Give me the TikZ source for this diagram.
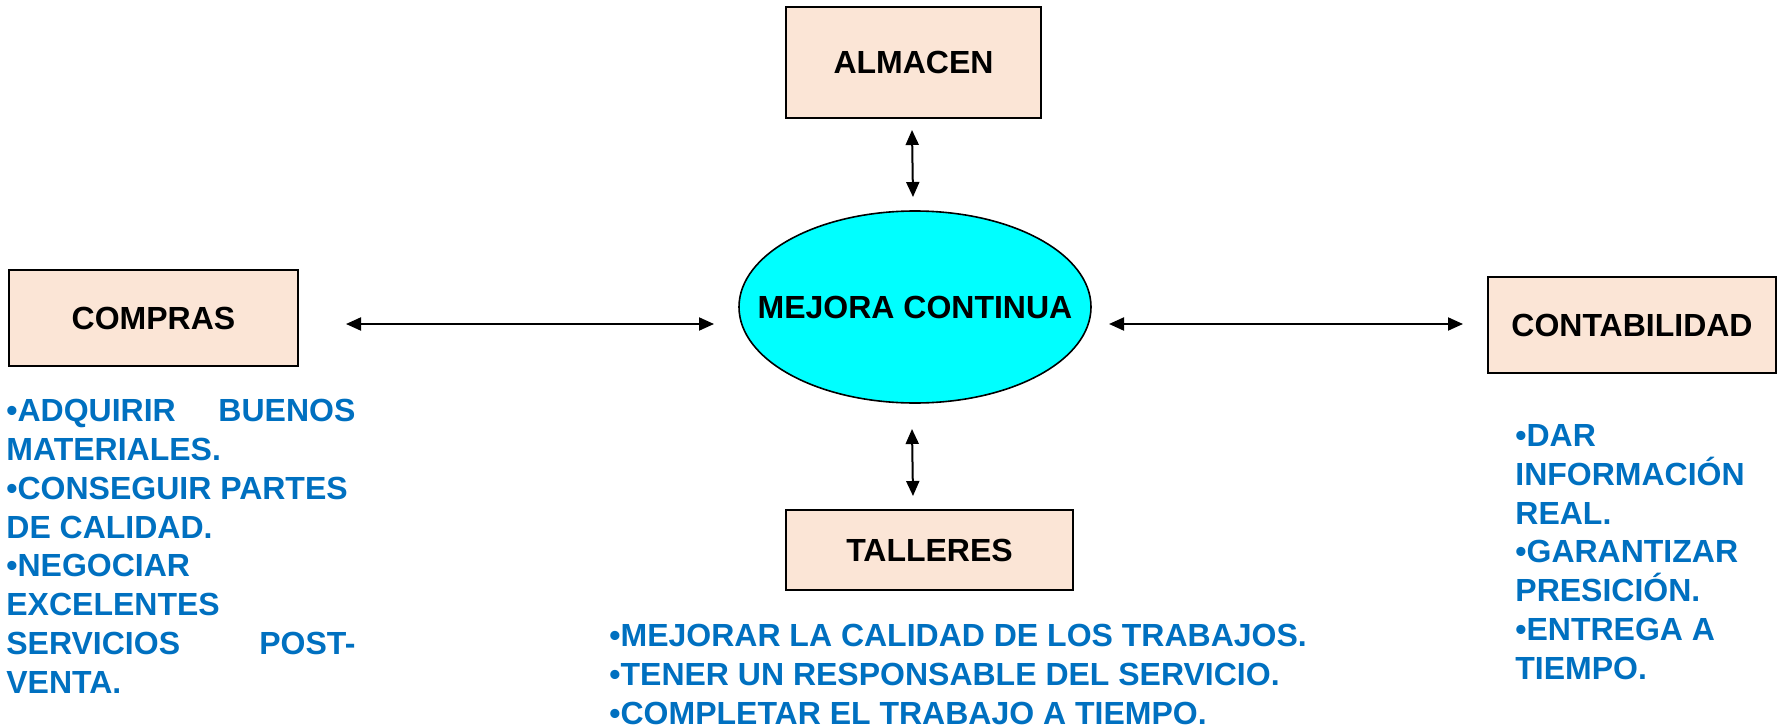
\documentclass[tikz,border=0pt]{standalone}
\usepackage{fontspec}
\setmainfont{Liberation Sans}
\usetikzlibrary{arrows.meta,shapes.geometric}
\definecolor{boxfill}{RGB}{251,229,214}
\definecolor{listblue}{RGB}{0,112,192}
\definecolor{ellfill}{RGB}{0,255,255}
\begin{document}
\begin{tikzpicture}[x=0.5pt,y=-0.5pt,
  unitbox/.style={draw=black,line width=1.2pt,fill=boxfill,rectangle,inner sep=0pt,
    font=\fontsize{16}{18}\selectfont\bfseries},
  listtext/.style={text=listblue,font=\fontsize{16}{19.4}\selectfont\bfseries,
    inner sep=0pt,anchor=north west,align=left},
  link/.style={line width=1pt,{Triangle[length=7.5pt,width=6.5pt]}-{Triangle[length=7.5pt,width=6.5pt]}}]
\useasboundingbox (0,0) rectangle (1778,728);

\node[unitbox,minimum width=127.5pt,minimum height=55.5pt] (almacen) at (913.5,62.5) {ALMACEN};
\node[unitbox,minimum width=144.5pt,minimum height=48pt] (compras) at (153.5,318) {COMPRAS};
\node[unitbox,minimum width=144pt,minimum height=48pt] (contab) at (1632,325) {CONTABILIDAD};
\node[unitbox,minimum width=143.5pt,minimum height=40pt] (talleres) at (929.5,550) {TALLERES};
\node[ellipse,draw=black,line width=0.8pt,fill=ellfill,minimum width=176pt,minimum height=96pt,
  inner sep=0pt,font=\fontsize{16}{18}\selectfont\bfseries] (mejora) at (915,307) {\makebox[0pt]{MEJORA CONTINUA}};

\coordinate (l1) at (346,324);
\coordinate (l2) at (714,324);
\coordinate (r1) at (1109,324);
\coordinate (r2) at (1463,324);
\coordinate (t1) at (912,130);
\coordinate (t2) at (913,197);
\coordinate (b1) at (912,429);
\coordinate (b2) at (913,496);
\draw[link] (l1) -- (l2);
\draw[link] (r1) -- (r2);
\draw[link] (t1) -- (t2);
\draw[link] (b1) -- (b2);

\node[listtext] (comprasList) at (6,399) {\makebox[174.5pt][s]{•ADQUIRIR BUENOS}\\
MATERIALES.\\
•CONSEGUIR PARTES\\
DE CALIDAD.\\
•NEGOCIAR\\
EXCELENTES\\
\makebox[174.5pt][s]{SERVICIOS POST-}\\
VENTA.};

\node[listtext] (tallList) at (609,624) {•MEJORAR LA CALIDAD DE LOS TRABAJOS.\\
•TENER UN RESPONSABLE DEL SERVICIO.\\
•COMPLETAR EL TRABAJO A TIEMPO.};

\node[listtext] (contList) at (1515,424) {•DAR\\
INFORMACIÓN\\
REAL.\\
•GARANTIZAR\\
PRESICIÓN.\\
•ENTREGA A\\
TIEMPO.};
\end{tikzpicture}
\end{document}
